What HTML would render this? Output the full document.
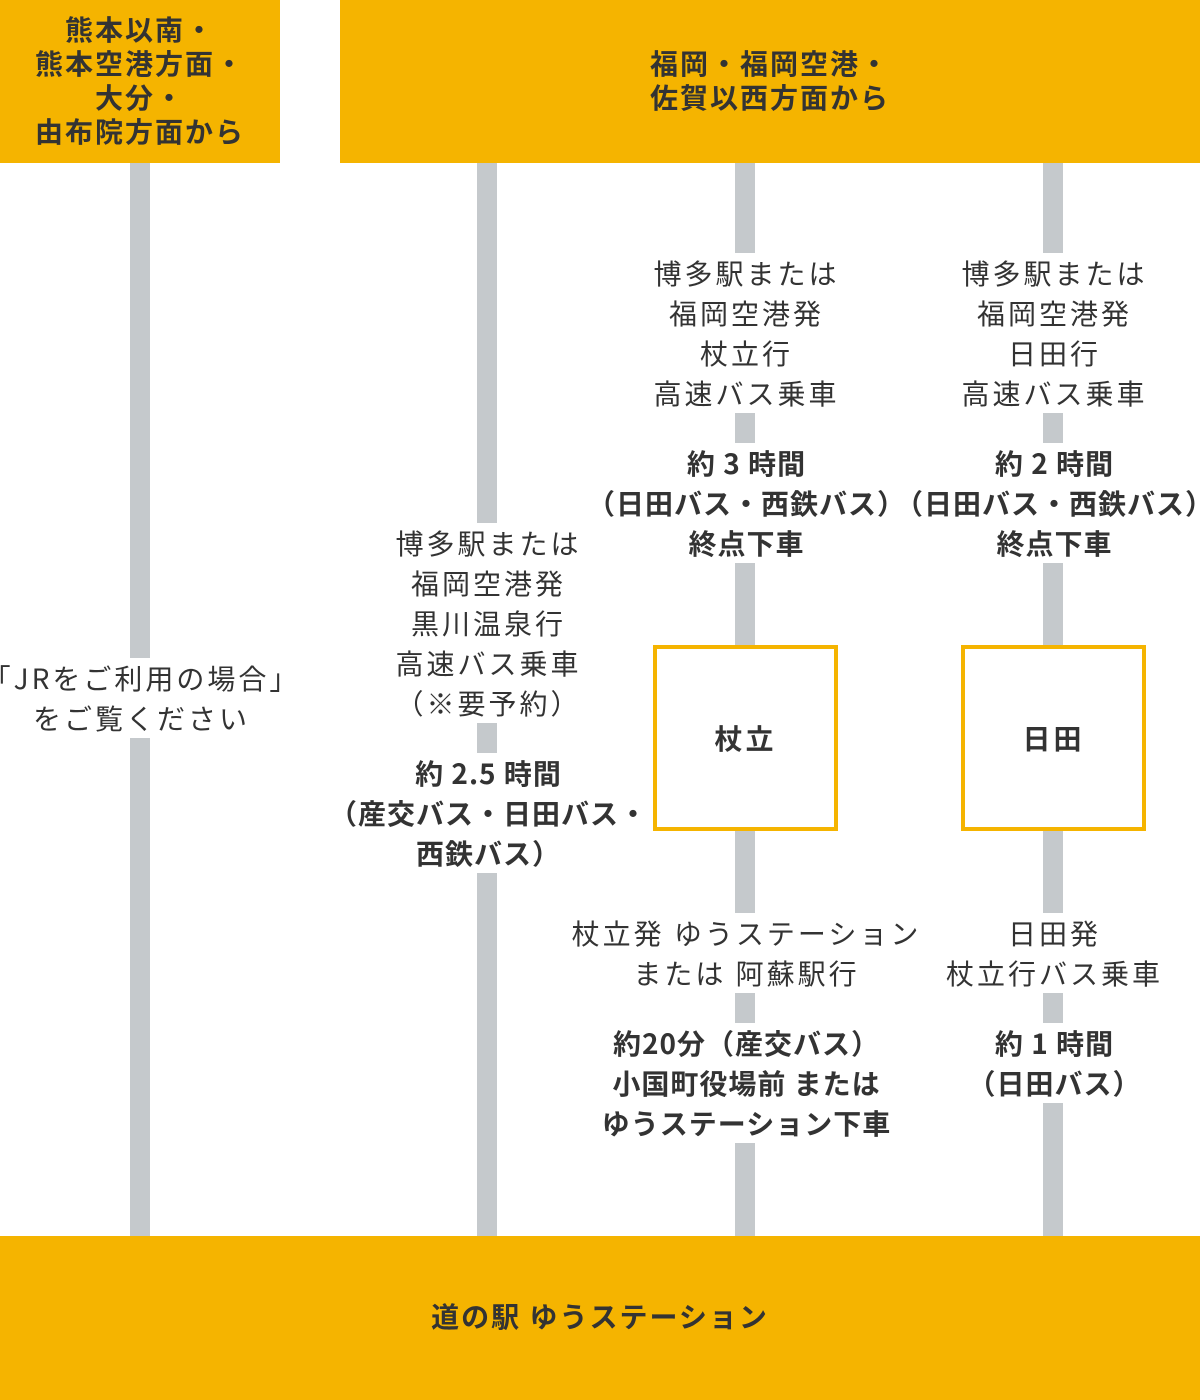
<!DOCTYPE html>
<html><head><meta charset="utf-8"><style>
body{margin:0;width:1200px;height:1400px;position:relative;background:#fff;font-family:"Noto Sans CJK JP","Liberation Sans",sans-serif;color:#333;overflow:hidden}
.y{position:absolute;background:#F5B400}
.l{position:absolute;width:20px;background:#C5C9CC;top:163px;height:1080px}
.t{position:absolute;background:#fff;text-align:center;font-size:28px;line-height:40px;white-space:nowrap;transform:translate(-50%,-2px);letter-spacing:3px;padding-left:3px}
.b{font-weight:bold;letter-spacing:1px}
.box{position:absolute;border:4px solid #F5B400;background:#fff;box-sizing:border-box;display:flex;align-items:center;justify-content:center;font-size:28px;font-weight:bold;letter-spacing:3px}
.h{position:absolute;display:flex;align-items:center;justify-content:center;text-align:center;font-weight:bold;font-size:28px;line-height:34px;letter-spacing:2px}
</style></head><body>
<div class="l" style="left:130px"></div>
<div class="l" style="left:477px"></div>
<div class="l" style="left:735px"></div>
<div class="l" style="left:1043px"></div>
<div class="y" style="left:0;top:0;width:280px;height:163px"></div>
<div class="y" style="left:340px;top:0;width:860px;height:163px"></div>
<div class="h" style="left:0;top:-2px;width:280px;height:163px">熊本以南・<br>熊本空港方面・<br>大分・<br>由布院方面から</div>
<div class="h" style="left:340px;top:-2px;width:860px;height:163px">福岡・福岡空港・<br>佐賀以西方面から</div>
<div class="y" style="left:0;top:1236px;width:1200px;height:164px"></div>
<div class="h" style="left:0;top:1234px;width:1200px;height:164px">道の駅 ゆうステーション</div>

<div class="t" style="left:140px;top:660px">「JRをご利用の場合」<br>をご覧ください</div>

<div class="t" style="left:487px;top:525px">博多駅または<br>福岡空港発<br>黒川温泉行<br>高速バス乗車<br>（※要予約）</div>
<div class="t b" style="left:487px;top:755px">約 2.5 時間<br>（産交バス・日田バス・<br>西鉄バス）</div>

<div class="t" style="left:745px;top:255px">博多駅または<br>福岡空港発<br>杖立行<br>高速バス乗車</div>
<div class="t b" style="left:745px;top:445px">約 3 時間<br>（日田バス・西鉄バス）<br>終点下車</div>
<div class="box" style="left:653px;top:645px;width:185px;height:186px">杖立</div>
<div class="t" style="left:745px;top:915px">杖立発 ゆうステーション<br>または 阿蘇駅行</div>
<div class="t b" style="left:745px;top:1025px">約20分（産交バス）<br>小国町役場前 または<br>ゆうステーション下車</div>

<div class="t" style="left:1053px;top:255px">博多駅または<br>福岡空港発<br>日田行<br>高速バス乗車</div>
<div class="t b" style="left:1053px;top:445px">約 2 時間<br>（日田バス・西鉄バス）<br>終点下車</div>
<div class="box" style="left:961px;top:645px;width:185px;height:186px">日田</div>
<div class="t" style="left:1053px;top:915px">日田発<br>杖立行バス乗車</div>
<div class="t b" style="left:1053px;top:1025px">約 1 時間<br>（日田バス）</div>
</body></html>
